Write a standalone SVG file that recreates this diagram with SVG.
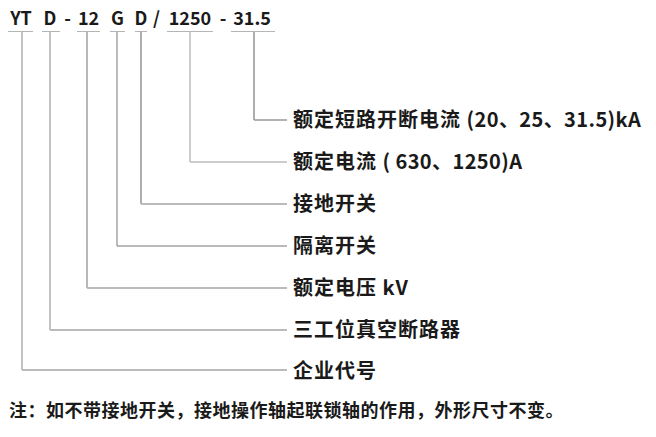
<svg xmlns="http://www.w3.org/2000/svg" width="656" height="437" viewBox="0 0 656 437">
<style>
.t{font-family:"Noto Sans CJK SC","Noto Sans",sans-serif;font-weight:bold;fill:#1a1a1a}
.code{font-size:18px;text-anchor:middle}
.lbl{font-size:20px;letter-spacing:1px}
.lat{letter-spacing:0.4px}
.note{font-size:18px;letter-spacing:0.5px}
.ul{stroke:#b5b5b5;stroke-width:1.2;fill:none}
.c{fill:none}
</style>
<rect width="656" height="437" fill="#ffffff"/>
<g id="code">
<text class="t code" x="21" y="25">YT</text>
<text class="t code" x="50" y="25">D</text>
<text class="t code" x="67.5" y="25">-</text>
<text class="t code" x="88.5" y="25">12</text>
<text class="t code" x="117.5" y="25">G</text>
<text class="t code" x="141" y="25">D</text>
<text class="t code" x="156.5" y="25">/</text>
<text class="t code" x="190" y="25">1250</text>
<text class="t code" x="223" y="25">-</text>
<text class="t code" x="252" y="25">31.5</text>
<path class="ul" d="M8 31.5H33M42 31.5H60M77 31.5H100M110 31.5H125M135 31.5H147M167 31.5H213M231 31.5H275"/>
</g>
<g id="connectors">
<path class="c" d="M254 32V120" stroke="#777" stroke-width="1.2"/>
<path class="c" d="M254 120H287" stroke="#999" stroke-width="1.5"/>
<path class="c" d="M190 32V162" stroke="#bbb" stroke-width="1.5"/>
<path class="c" d="M190 162H287" stroke="#bbb" stroke-width="1.5"/>
<path class="c" d="M141 32V204" stroke="#777" stroke-width="1.2"/>
<path class="c" d="M141 204H287" stroke="#bbb" stroke-width="2"/>
<path class="c" d="M117 32V246" stroke="#bbb" stroke-width="2"/>
<path class="c" d="M117 246H287" stroke="#777" stroke-width="1.2"/>
<path class="c" d="M87 32V288" stroke="#888" stroke-width="1.2"/>
<path class="c" d="M87 288H287" stroke="#bbb" stroke-width="2"/>
<path class="c" d="M50 32V330" stroke="#999" stroke-width="1.2"/>
<path class="c" d="M50 330H287" stroke="#bbb" stroke-width="1.8"/>
<path class="c" d="M22 32V370" stroke="#999" stroke-width="1.2"/>
<path class="c" d="M22 370H287" stroke="#bbb" stroke-width="2"/>
</g>
<g id="n1"><text class="t lbl" x="293" y="127">额定短路开断电流 <tspan class="lat">(20、25、31.5)kA</tspan></text></g>
<g id="n2"><text class="t lbl" x="293" y="169">额定电流 <tspan class="lat">( 630、1250)A</tspan></text></g>
<g id="n3"><text class="t lbl" x="293" y="211">接地开关</text></g>
<g id="n4"><text class="t lbl" x="293" y="253">隔离开关</text></g>
<g id="n5"><text class="t lbl" x="293" y="295">额定电压 kV</text></g>
<g id="n6"><text class="t lbl" x="293" y="337">三工位真空断路器</text></g>
<g id="n7"><text class="t lbl" x="293" y="378">企业代号</text></g>
<g id="note"><text class="t note" x="9" y="417">注：如不带接地开关，接地操作轴起联锁轴的作用，外形尺寸不变。</text></g>
</svg>
